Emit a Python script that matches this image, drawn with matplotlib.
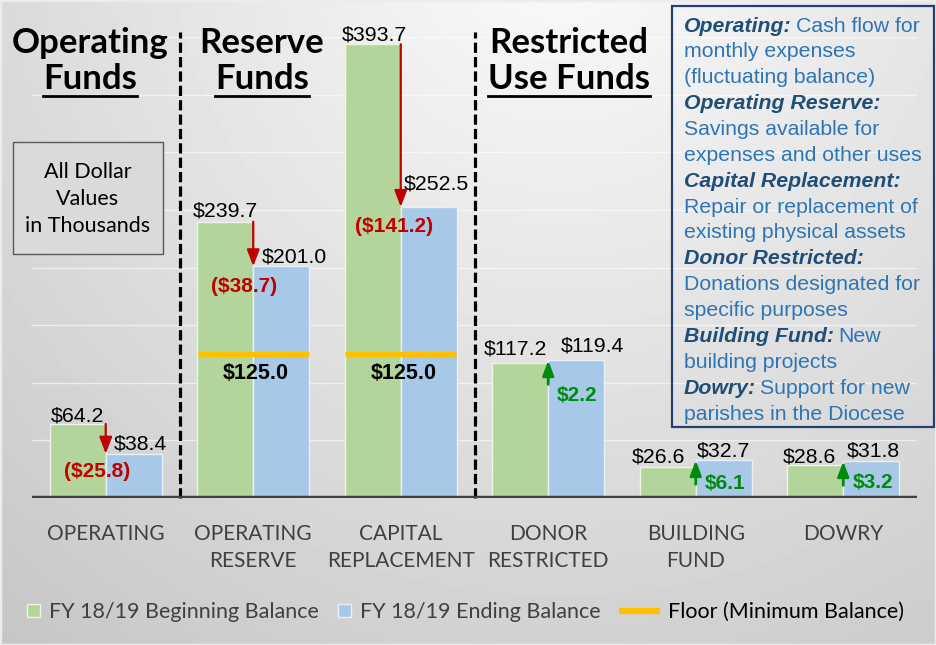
import numpy as np
import matplotlib
matplotlib.use("Agg")
import matplotlib.pyplot as plt
import matplotlib.patches as mpatches
from matplotlib.lines import Line2D
from matplotlib.text import Annotation
from matplotlib.legend_handler import HandlerPatch

# ---------------- data ----------------
categories = ["OPERATING", "OPERATING\nRESERVE", "CAPITAL\nREPLACEMENT",
              "DONOR\nRESTRICTED", "BUILDING\nFUND", "DOWRY"]
beginning = [64.2, 239.7, 393.7, 117.2, 26.6, 28.6]
ending = [38.4, 201.0, 252.5, 119.4, 32.7, 31.8]
floor = [None, 125.0, 125.0, None, None, None]
series_names = ["FY 18/19 Beginning Balance", "FY 18/19 Ending Balance",
                "Floor (Minimum Balance)"]
section_titles = [("Operating", "Funds"), ("Reserve", "Funds"),
                  ("Restricted", "Use Funds")]
units_note = "All Dollar\nValues\nin Thousands"
info_lines = [
    ("Operating:", "Cash flow for"),
    ("", "monthly expenses"),
    ("", "(fluctuating balance)"),
    ("Operating Reserve:", ""),
    ("", "Savings available for"),
    ("", "expenses and other uses"),
    ("Capital Replacement:", ""),
    ("", "Repair or replacement of"),
    ("", "existing physical assets"),
    ("Donor Restricted:", ""),
    ("", "Donations designated for"),
    ("", "specific purposes"),
    ("Building Fund:", "New"),
    ("", "building projects"),
    ("Dowry:", "Support for new"),
    ("", "parishes in the Diocese"),
]

# ---------------- layout / style ----------------
W, H = 936, 645
GREEN = "#B3D59C"
BLUE = "#A8C8E7"
GOLD = "#FFC000"
RED = "#C00000"
DKGREEN = "#008A0E"
HDR = "#1F4E79"
TXT = "#2E75B6"
TITLE_FONT = "Lato"
ARIAL = "Liberation Sans"

begin_lbl_off = [(0, 3), (0, 5), (2, 4), (-5, 8), (-9, 5), (-6, 3)]
end_lbl_off = [(7, 4), (13, 4), (8, 17), (16, 9), (0, 4), (2, 5)]
change_lbl_off = [(-9, -18), (-9, -20), (-7, -20), (29, -35), (29, -23), (30, -21)]


def FX(px):
    return px / W


def FY(py):
    return 1 - py / H


fig = plt.figure(figsize=(W / 100, H / 100), dpi=100)

# background gradient
bg = fig.add_axes([0, 0, 1, 1], zorder=0)
yy, xx = np.mgrid[0:H, 0:W]
d = np.hypot(xx - 560, yy + 60)
v = 0.985 - 0.21 * np.clip(d / 900, 0, 1)
bg.imshow(v, cmap="gray", vmin=0, vmax=1, aspect="auto", interpolation="bilinear")
bg.set_axis_off()
fig.add_artist(mpatches.Rectangle((0, 0), 1, 1, transform=fig.transFigure,
                                  fill=False, edgecolor="#ececec", lw=2.5, zorder=0.5))

# main axes
ax = fig.add_axes([FX(32), FY(498), FX(917) - FX(32), FY(37) - FY(498)], zorder=1)
ax.set_facecolor("none")
x = np.arange(len(categories))
bw = 0.38
ax.bar(x - bw / 2, beginning, bw, color=GREEN, edgecolor="#eef5e8", lw=1, zorder=3,
       label=series_names[0])
ax.bar(x + bw / 2, ending, bw, color=BLUE, edgecolor="#e8f0f8", lw=1, zorder=3,
       label=series_names[1])
ax.set_xlim(-0.5, len(categories) - 0.5)
ax.set_ylim(0, 400)
ax.set_yticks(np.arange(0, 401, 50))
ax.yaxis.grid(True, color="white", lw=1.0, alpha=0.6, zorder=0)
ax.set_axisbelow(True)
ax.tick_params(axis="y", left=False, labelleft=False)
for s in ax.spines.values():
    s.set_visible(False)
ax.axhline(0, color="#404040", lw=3.2, zorder=6)
ax.set_xticks(x)
ax.set_xticklabels(categories, fontsize=15, color="#404040", family=TITLE_FONT,
                   linespacing=1.43)
ax.tick_params(axis="x", length=0, pad=18.5)

# floor lines
for i, f in enumerate(floor):
    if f is None:
        continue
    ax.plot([i - bw * 0.99, i + bw * 0.99], [f, f],
            color=GOLD, lw=3.8, solid_capstyle="butt", zorder=5)
    ax.annotate(f"${f:.1f}", xy=(i, f), xytext=(2.5, -20), textcoords="offset pixels",
                ha="center", va="center", fontsize=15.5, fontweight="bold",
                family=ARIAL, color="black", zorder=7)

# separators
for sx in [0.5, 2.5]:
    ax.plot([sx, sx], [0, 404], color="black", lw=2.3, ls=(0, (3.2, 1.3)),
            clip_on=False, zorder=4)

# value labels, arrows, change labels
for i in range(len(categories)):
    b, e = beginning[i], ending[i]
    ax.annotate(f"${b:.1f}", xy=(i - bw / 2, b), xytext=begin_lbl_off[i],
                textcoords="offset pixels", ha="center", va="baseline",
                fontsize=15.3, family=ARIAL, color="black", zorder=7)
    ax.annotate(f"${e:.1f}", xy=(i + bw / 2, e), xytext=end_lbl_off[i],
                textcoords="offset pixels", ha="center", va="baseline",
                fontsize=15.3, family=ARIAL, color="black", zorder=7)
    ch = e - b
    if ch < 0:
        ax.annotate("", xy=(i, e), xytext=(i, b),
                    arrowprops=dict(arrowstyle="-|>,head_length=0.5,head_width=0.19",
                                    color=RED, lw=1.6, mutation_scale=20,
                                    shrinkA=0, shrinkB=0), zorder=8)
        txt, col = f"(${abs(ch):.1f})", RED
    else:
        ax.annotate("", xy=(i, e), xytext=(0, -24), textcoords="offset pixels",
                    arrowprops=dict(arrowstyle="-|>,head_length=0.45,head_width=0.17",
                                    color=DKGREEN, lw=2.0, mutation_scale=20,
                                    shrinkA=0, shrinkB=0), zorder=8)
        txt, col = f"${ch:.1f}", DKGREEN
    ax.annotate(txt, xy=(i, e), xytext=change_lbl_off[i], textcoords="offset pixels",
                ha="center", va="center", fontsize=15, fontweight="bold",
                family=ARIAL, color=col, zorder=8)

# section titles
title_pos = [90, 262, 569]
title_texts = []
for (l1, l2), cx in zip(section_titles, title_pos):
    fig.text(FX(cx), FY(53), l1, ha="center", va="baseline", fontsize=25,
             fontweight="bold", family=TITLE_FONT, color="black", zorder=6)
    t2 = fig.text(FX(cx), FY(89), l2, ha="center", va="baseline", fontsize=25,
                  fontweight="bold", family=TITLE_FONT, color="black", zorder=6)
    title_texts.append(t2)

# units box
fig.add_artist(mpatches.Rectangle((FX(13), FY(254)), FX(163) - FX(13), FY(142) - FY(254),
                                  transform=fig.transFigure, facecolor="#dadada",
                                  edgecolor="#595959", lw=1, zorder=5))
fig.text(FX(88), FY(199), units_note, ha="center", va="center", fontsize=15.5,
         family=TITLE_FONT, color="black", linespacing=1.45, zorder=6)

# info box
fig.add_artist(mpatches.Rectangle((FX(672), FY(427)), FX(934) - FX(672), FY(6) - FY(427),
                                  transform=fig.transFigure, facecolor="none",
                                  edgecolor="#24406E", lw=1.6, zorder=5))
for k, (hd, body) in enumerate(info_lines):
    by = 31.5 + k * 25.87
    if hd:
        th = fig.text(FX(684), FY(by), hd, ha="left", va="baseline", fontsize=15.3,
                      fontweight="bold", style="italic", family=ARIAL, color=HDR, zorder=6)
        if body:
            ann = Annotation(body, xy=(1, 0), xycoords=th,
                             xytext=(4, 0), textcoords="offset pixels",
                             ha="left", va="bottom", fontsize=15.3,
                             family=ARIAL, color=TXT, zorder=6)
            fig.add_artist(ann)
    else:
        fig.text(FX(684), FY(by), body, ha="left", va="baseline", fontsize=15.3,
                 family=ARIAL, color=TXT, zorder=6)


# legends (three single-entry legends placed along the bottom)
def square_patch(legend, orig_handle, xdescent, ydescent, width, height, fontsize):
    s = height * 0.95
    return mpatches.Rectangle((-xdescent + width - s, -ydescent + (height - s) / 2), s, s)


h_green = mpatches.Patch(facecolor=GREEN, edgecolor="#eef5e8", lw=1)
h_blue = mpatches.Patch(facecolor=BLUE, edgecolor="#e8f0f8", lw=1)
h_floor = Line2D([], [], color=GOLD, lw=4.5, solid_capstyle="butt")
leg_specs = [(h_green, series_names[0], 27, 0.62, "#404040"),
             (h_blue, series_names[1], 338, 0.62, "#404040"),
             (h_floor, series_names[2], 619, 1.9, "black")]
for h, lab, lx, hl, tc in leg_specs:
    lg = fig.legend([h], [lab], loc="center left", bbox_to_anchor=(FX(lx), FY(612)),
                    frameon=False, borderpad=0, borderaxespad=0, handlelength=hl,
                    handleheight=0.62, handletextpad=0.38,
                    prop={"family": TITLE_FONT, "size": 15.5},
                    handler_map={mpatches.Patch: HandlerPatch(patch_func=square_patch)})
    for t in lg.get_texts():
        t.set_color(tc)
    lg.set_zorder(6)

# underlines for section titles
fig.canvas.draw()
r = fig.canvas.get_renderer()
for t in title_texts:
    bb = t.get_window_extent(r).transformed(fig.transFigure.inverted())
    fig.add_artist(Line2D([bb.x0, bb.x1], [FY(95.5), FY(95.5)], transform=fig.transFigure,
                          color="black", lw=2, zorder=6))

fig.savefig("out.png", dpi=100)
